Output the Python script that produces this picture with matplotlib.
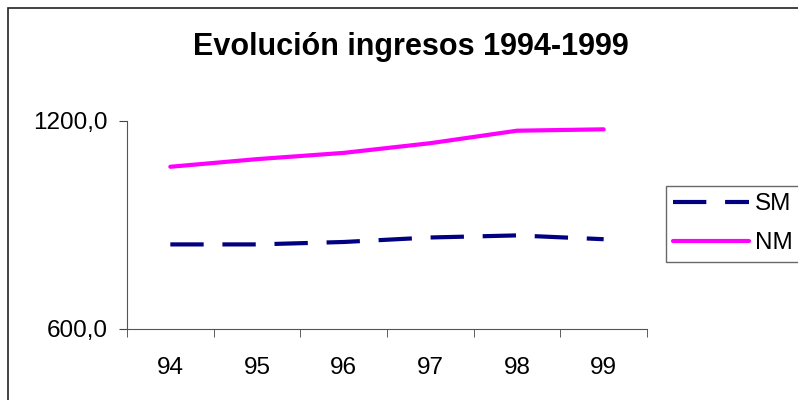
import matplotlib
matplotlib.use("Agg")
import matplotlib.pyplot as plt
from matplotlib.patches import Rectangle

years = ["94", "95", "96", "97", "98", "99"]
sm_values = [844, 844, 851, 864, 870, 859]
nm_values = [1068, 1090, 1108, 1136, 1172, 1176]
y_ticks = [600, 1200]
y_labels = ["600,0", "1200,0"]

plt.rcParams["font.family"] = ["Liberation Sans", "DejaVu Sans"]

fig = plt.figure(figsize=(7.98, 4.0), dpi=100)
# outer chart frame (cropped on right/bottom in the reference)
fig.patches.append(Rectangle((8 / 798, -0.1), 1.2, 1 - 8 / 400 + 0.1,
                             transform=fig.transFigure, fill=False,
                             edgecolor="#222222", linewidth=1.2))

ax = fig.add_axes([127 / 798, 1 - 329 / 400, (647 - 127) / 798, (329 - 121) / 400])
x = list(range(len(years)))
ax.plot(x, sm_values, color="#000080", linewidth=3, dashes=(8, 4.5),
        label="SM", solid_capstyle="butt", dash_capstyle="butt")
ax.plot(x, nm_values, color="#FF00FF", linewidth=3, label="NM",
        solid_capstyle="round")

ax.set_xlim(-0.5, len(years) - 0.5)
ax.set_ylim(600, 1200)
ax.set_yticks(y_ticks)
ax.set_yticklabels(y_labels, fontsize=17.5)
ax.set_xticks(x)
ax.set_xticklabels(years, fontsize=17.5)
ax.set_xticks([i - 0.5 for i in range(len(years) + 1)], minor=True)
ax.tick_params(axis="x", which="major", length=0, pad=20)
ax.tick_params(axis="x", which="minor", length=6, color="#444444")
ax.tick_params(axis="y", length=6, color="#444444", pad=8)
for side in ("top", "right"):
    ax.spines[side].set_visible(False)
for side in ("left", "bottom"):
    ax.spines[side].set_color("#555555")

fig.text(411 / 798, 1 - 47 / 400, "Evolución ingresos 1994-1999",
         ha="center", va="center", fontsize=22, fontweight="bold")

leg = fig.legend(loc="upper left", bbox_to_anchor=(666 / 798, 1 - 186 / 400),
                 fontsize=17.5, frameon=True, fancybox=False, edgecolor="#444444",
                 handlelength=3.1, borderaxespad=0, borderpad=0.3,
                 labelspacing=0.7, handletextpad=0.25)
leg.get_frame().set_linewidth(1.0)

fig.savefig("out.png", dpi=100)
